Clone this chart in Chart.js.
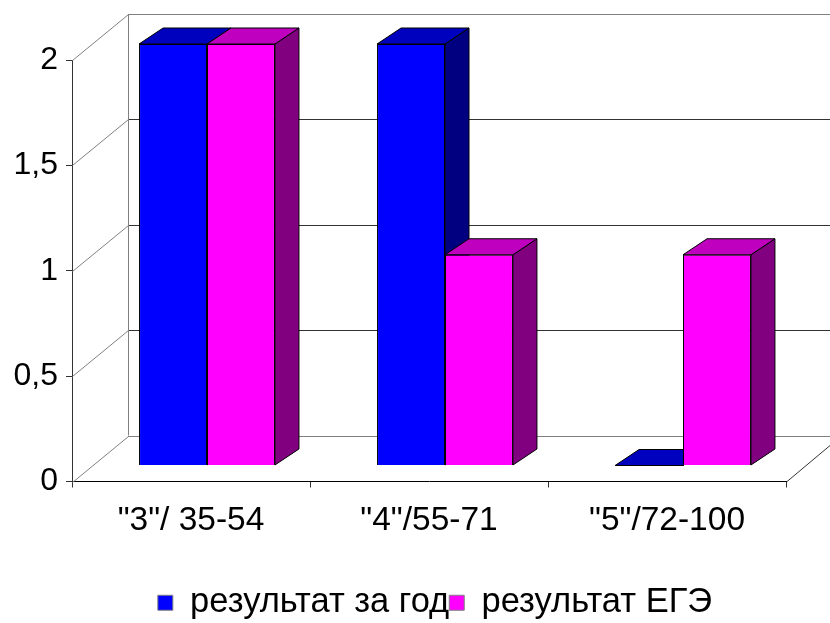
<!DOCTYPE html>
<html>
<head>
<meta charset="utf-8">
<script src="https://cdn.jsdelivr.net/npm/chart.js@4"></script>
<style>
    html, body { margin: 0; padding: 0; background: #fff; }
    canvas { display: block; }
</style>
</head>
<body>
<canvas id="chart" width="830" height="623"></canvas>
<script>
const categories = ['"3"/ 35-54', '"4"/55-71', '"5"/72-100'];
const seriesNames = ['результат за год', 'результат ЕГЭ'];
const yearResults = [2, 2, 0];
const examResults = [2, 1, 1];

const FONT_FAMILY = '"Liberation Sans", Arial, sans-serif';

// depth of the floor and of the bars, in pixels
const WALL_DX = 56, WALL_DY = 46;
const BAR_SHIFT_X = 16, BAR_SHIFT_Y = 16;
const BAR_DX = 24, BAR_DY = 16;
const LEGEND_SHIFT = 42;

function poly(ctx, pts, fill, stroke) {
    ctx.beginPath();
    pts.forEach((p, i) => i ? ctx.lineTo(p[0], p[1]) : ctx.moveTo(p[0], p[1]));
    ctx.closePath();
    if (fill) { ctx.fillStyle = fill; ctx.fill(); }
    if (stroke) { ctx.strokeStyle = stroke; ctx.lineWidth = 1; ctx.stroke(); }
}

function line(ctx, x1, y1, x2, y2, color) {
    ctx.beginPath();
    ctx.moveTo(x1, y1);
    ctx.lineTo(x2, y2);
    ctx.strokeStyle = color;
    ctx.lineWidth = 1;
    ctx.stroke();
}

// back wall, side wall and floor
const wallsPlugin = {
    id: 'walls',
    beforeDatasetsDraw(chart) {
        const { ctx, chartArea: area, scales: { y } } = chart;
        ctx.save();
        y.ticks.forEach(t => {
            const py = Math.round(y.getPixelForValue(t.value)) + 0.5;
            const top = t.value === y.max, bottom = t.value === y.min;
            line(ctx, area.left + 0.5, py, area.left + WALL_DX + 0.5, py - WALL_DY, '#808080');
            line(ctx, area.left + WALL_DX, py - WALL_DY, 830, py - WALL_DY, top || bottom ? '#808080' : '#333333');
        });
        const backBottom = y.getPixelForValue(y.min) - WALL_DY;
        const backTop = y.getPixelForValue(y.max) - WALL_DY;
        line(ctx, area.left + WALL_DX + 0.5, backTop, area.left + WALL_DX + 0.5, backBottom, '#808080');
        line(ctx, area.right + 0.5, area.bottom + 0.5, area.right + WALL_DX, area.bottom - WALL_DY, '#333333');
        ctx.restore();
    }
};

// Chart.js paints the first dataset last, here blue has to go under pink,
// so the bars are painted from this plugin and the default pass is cancelled
const barsPlugin = {
    id: 'bars3d',
    afterLayout(chart) {
        // the legend sits right of the canvas centre in the original
        chart.legend.left += LEGEND_SHIFT;
        chart.legend.right += LEGEND_SHIFT;
    },
    beforeDatasetsDraw(chart) {
        const { ctx } = chart;
        ctx.save();
        ctx.translate(BAR_SHIFT_X, -BAR_SHIFT_Y);
        chart.data.datasets.forEach((ds, i) => {
            chart.getDatasetMeta(i).data.forEach(bar => {
                const l = bar.x - bar.width / 2, r = bar.x + bar.width / 2;
                const t = bar.y, b = bar.base;
                poly(ctx, [[r, t], [r + BAR_DX, t - BAR_DY], [r + BAR_DX, b - BAR_DY], [r, b]], ds.sideColor, '#000');
                poly(ctx, [[l, t], [l + BAR_DX, t - BAR_DY], [r + BAR_DX, t - BAR_DY], [r, t]], ds.topColor, '#000');
                bar.draw(ctx);
            });
        });
        ctx.restore();
        return false;
    }
};

new Chart(document.getElementById('chart'), {
    type: 'bar',
    data: {
        labels: categories,
        datasets: [
            {
                label: seriesNames[0], data: yearResults,
                backgroundColor: '#0000ff', topColor: '#0000bf', sideColor: '#000080',
                borderColor: '#000', borderWidth: 1
            },
            {
                label: seriesNames[1], data: examResults,
                backgroundColor: '#ff00ff', topColor: '#bf00bf', sideColor: '#800080',
                borderColor: '#000', borderWidth: 1
            }
        ]
    },
    options: {
        responsive: false,
        animation: false,
        layout: { padding: { top: 60, right: 44, bottom: -7, left: 0 } },
        datasets: { bar: { barPercentage: 1, categoryPercentage: 0.571 } },
        plugins: {
            tooltip: { enabled: false },
            legend: {
                position: 'bottom',
                labels: {
                    color: '#000',
                    font: { family: FONT_FAMILY, size: 34.5 },
                    boxWidth: 15,
                    boxHeight: 15,
                    padding: 0,
                    generateLabels(chart) {
                        return Chart.defaults.plugins.legend.labels.generateLabels(chart)
                            .map(item => ({ ...item, strokeStyle: '#808080', lineWidth: 1 }));
                    }
                }
            }
        },
        scales: {
            x: {
                afterFit(scale) { scale.height = 104; },
                grid: { drawOnChartArea: false, color: '#333', tickLength: 6 },
                border: { color: '#000', width: 1 },
                ticks: { color: '#000', font: { family: FONT_FAMILY, size: 33.5 }, padding: 13, maxRotation: 0 }
            },
            y: {
                min: 0,
                max: 2,
                afterFit(scale) { scale.width = 72; },
                grid: { drawOnChartArea: false, color: '#333', tickLength: 6 },
                border: { color: '#333', width: 1 },
                ticks: {
                    stepSize: 0.5,
                    color: '#000',
                    font: { family: FONT_FAMILY, size: 32 },
                    padding: 8,
                    callback: value => String(value).replace('.', ',')
                }
            }
        }
    },
    plugins: [wallsPlugin, barsPlugin]
});
</script>
</body>
</html>
